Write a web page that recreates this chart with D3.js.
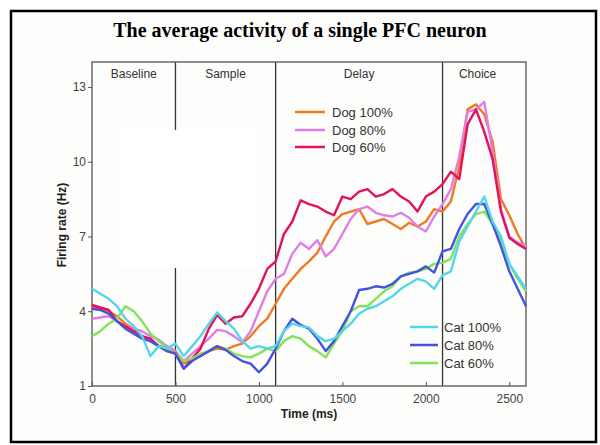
<!DOCTYPE html>
<html>
<head>
<meta charset="utf-8">
<script src="https://cdn.jsdelivr.net/npm/d3@7"></script>
<style>
  body { margin: 0; background: #fff; }
  text { font-family: Arial, "Liberation Sans", sans-serif; }
</style>
</head>
<body>
<svg id="chart" width="600" height="445"></svg>
<script>
// time axis, 50 ms steps
var times = d3.range(0, 2601, 50);

var dog100 = [4.2,4.1,4.0,3.8,3.5,3.3,3.0,2.8,2.6,2.4,2.3,1.9,2.1,2.2,2.4,2.5,2.45,2.6,2.7,3.0,3.4,3.7,4.3,4.9,5.3,5.7,6.0,6.35,7.0,7.6,7.9,8.0,8.1,7.5,7.6,7.7,7.5,7.3,7.55,7.4,7.6,8.1,8.0,8.4,9.8,12.1,12.3,11.9,10.8,8.5,7.85,7.1,6.5];
var dog80  = [3.7,3.75,3.8,3.6,3.4,3.3,3.2,3.0,2.85,2.6,2.4,2.0,2.3,2.6,2.9,3.25,3.2,3.0,2.75,3.2,4.0,4.8,5.3,5.5,6.3,6.75,6.5,6.85,6.2,6.5,7.1,7.7,8.1,8.2,7.95,7.85,7.8,7.95,7.75,7.4,7.2,7.8,8.3,8.9,10.2,12.0,12.1,12.4,10.4,8.1,7.0,6.75,6.6];
var dog60  = [4.25,4.15,4.05,3.6,3.4,3.2,3.0,2.9,2.6,2.5,2.3,1.7,2.1,2.5,3.3,3.85,3.5,3.75,3.8,4.3,4.9,5.7,6.0,7.1,7.6,8.45,8.3,8.2,8.0,7.85,8.6,8.5,8.8,8.9,8.6,8.7,8.9,8.6,8.4,8.0,8.6,8.8,9.1,9.6,9.3,11.5,12.1,11.2,10.1,8.0,6.95,6.7,6.5];
var cat100 = [4.9,4.7,4.5,4.2,3.7,3.4,3.0,2.2,2.6,2.5,2.7,2.2,2.6,3.0,3.5,3.95,3.6,3.3,2.8,2.5,2.6,2.5,2.6,3.2,3.5,3.4,3.35,3.0,2.8,2.9,3.2,3.5,3.9,4.1,4.2,4.4,4.6,4.9,5.1,5.3,5.2,4.9,5.45,5.6,6.8,7.4,8.0,8.6,7.6,7.0,5.9,5.4,4.9];
var cat80  = [4.1,4.05,3.9,3.6,3.3,3.1,2.9,2.8,2.6,2.4,2.3,1.7,2.0,2.2,2.4,2.6,2.45,2.2,2.0,1.9,1.55,1.9,2.5,3.2,3.7,3.45,3.3,2.9,2.4,2.8,3.4,4.0,4.85,4.9,5.0,4.95,5.1,5.4,5.5,5.6,5.8,5.55,6.4,6.5,7.3,7.9,8.3,8.3,7.5,6.6,5.6,4.9,4.2];
var cat60  = [3.0,3.2,3.5,3.7,4.2,4.0,3.6,3.1,2.8,2.5,2.3,2.0,2.1,2.3,2.4,2.6,2.5,2.3,2.2,2.15,2.3,2.5,2.4,2.8,3.0,2.9,2.6,2.4,2.15,2.7,3.2,4.0,4.2,4.2,4.5,4.8,5.0,5.4,5.55,5.6,5.7,5.9,5.95,6.1,7.0,7.5,7.9,8.0,7.5,6.8,5.9,5.3,4.8];

var phaseBounds = [500, 1100, 2100];
var phaseNames = ["Baseline", "Sample", "Delay", "Choice"];
var phaseLabelT = [250, 800, 1600, 2310];
var xTicks = [0, 500, 1000, 1500, 2000, 2500];
var yTicks = [1, 4, 7, 10, 13];

var palette = {
  dog100: "#f07a22",
  dog80: "#e07ee8",
  dog60: "#e3125a",
  cat100: "#52d6ec",
  cat80: "#4452e0",
  cat60: "#84e25a",
  frame: "#555",
  text: "#333"
};

var dogSeries = [
  {name: "Dog 100%", values: dog100, color: palette.dog100},
  {name: "Dog 80%", values: dog80, color: palette.dog80},
  {name: "Dog 60%", values: dog60, color: palette.dog60}
];
var catSeries = [
  {name: "Cat 100%", values: cat100, color: palette.cat100},
  {name: "Cat 80%", values: cat80, color: palette.cat80},
  {name: "Cat 60%", values: cat60, color: palette.cat60}
];

var svg = d3.select("#chart");

// outer frame
svg.append("rect")
   .attr("x", 11).attr("y", 11)
   .attr("width", 585).attr("height", 431)
   .attr("fill", "#fdfdfb")
   .attr("stroke", "#000")
   .attr("stroke-width", 2.5);

svg.append("text")
   .attr("x", 300).attr("y", 37)
   .attr("text-anchor", "middle")
   .style("font-family", "'Liberation Serif', 'Times New Roman', serif")
   .style("font-weight", "bold")
   .style("font-size", "20px")
   .text("The average activity of a single PFC neuron");

var margin = {left: 92, top: 62, right: 526, bottom: 386};

var x = d3.scaleLinear().domain([0, 2600]).range([margin.left, margin.right]);
var y = d3.scaleLinear().domain([1, 14]).range([margin.bottom, margin.top]);

// phase separators
svg.selectAll(".phase")
   .data(phaseBounds)
   .enter().append("line")
   .attr("class", "phase")
   .attr("x1", function(d){ return x(d); })
   .attr("x2", function(d){ return x(d); })
   .attr("y1", margin.top).attr("y2", margin.bottom)
   .attr("stroke", "#333")
   .attr("stroke-width", 1.3);

// the white patch in the source image
svg.append("rect")
   .attr("x", 118).attr("y", 130)
   .attr("width", 139).attr("height", 138)
   .attr("fill", "#fff");

svg.selectAll(".phase-label")
   .data(phaseNames)
   .enter().append("text")
   .attr("class", "phase-label")
   .attr("x", function(d, i){ return x(phaseLabelT[i]); })
   .attr("y", 78)
   .attr("text-anchor", "middle")
   .attr("fill", palette.text)
   .style("font-size", "12px")
   .text(function(d){ return d; });

// plot box
svg.append("rect")
   .attr("x", margin.left).attr("y", margin.top)
   .attr("width", margin.right - margin.left)
   .attr("height", margin.bottom - margin.top)
   .attr("fill", "none")
   .attr("stroke", palette.frame)
   .attr("stroke-width", 1.3);

// axes
var xAxis = svg.append("g")
   .attr("transform", "translate(0," + margin.bottom + ")")
   .call(d3.axisBottom(x).tickValues(xTicks).tickFormat(d3.format("d"))
          .tickSizeInner(-4).tickSizeOuter(0).tickPadding(8));
var yAxis = svg.append("g")
   .attr("transform", "translate(" + margin.left + ",0)")
   .call(d3.axisLeft(y).tickValues(yTicks).tickFormat(d3.format("d"))
          .tickSizeInner(4).tickSizeOuter(0).tickPadding(2));

[xAxis, yAxis].forEach(function(g){
  g.select(".domain").remove();
  g.selectAll(".tick line").attr("stroke", palette.frame);
  g.selectAll(".tick text")
   .attr("fill", "#444")
   .style("font-family", "Arial, 'Liberation Sans', sans-serif")
   .style("font-size", "12px");
});

svg.append("text")
   .attr("x", 309).attr("y", 418)
   .attr("text-anchor", "middle")
   .attr("fill", "#222")
   .style("font-weight", "bold")
   .style("font-size", "12px")
   .text("Time (ms)");

svg.append("text")
   .attr("transform", "translate(66,225) rotate(-90)")
   .attr("text-anchor", "middle")
   .attr("fill", "#222")
   .style("font-weight", "bold")
   .style("font-size", "12px")
   .text("Firing rate (Hz)");

// traces
var line = d3.line()
   .x(function(d, i){ return x(times[i]); })
   .y(function(d){ return y(d); });

var drawOrder = [dogSeries[0], dogSeries[1], dogSeries[2], catSeries[2], catSeries[1], catSeries[0]];
svg.selectAll(".trace")
   .data(drawOrder)
   .enter().append("path")
   .attr("class", "trace")
   .attr("d", function(d){ return line(d.values); })
   .attr("fill", "none")
   .attr("stroke", function(d){ return d.color; })
   .attr("stroke-width", 2.4)
   .attr("stroke-linejoin", "round");

// legends
function legend(series, x0, x1, tx, ys){
  var g = svg.append("g");
  series.forEach(function(s, i){
    g.append("line")
     .attr("x1", x0).attr("x2", x1)
     .attr("y1", ys[i]).attr("y2", ys[i])
     .attr("stroke", s.color)
     .attr("stroke-width", 2.5);
    g.append("text")
     .attr("x", tx).attr("y", ys[i] + 4.5)
     .attr("fill", palette.text)
     .style("font-size", "13px")
     .text(s.name);
  });
}
legend(dogSeries, 295, 325, 332, [112, 130, 147]);
legend(catSeries, 410, 438, 444, [327, 345, 363]);
</script>
</body>
</html>
